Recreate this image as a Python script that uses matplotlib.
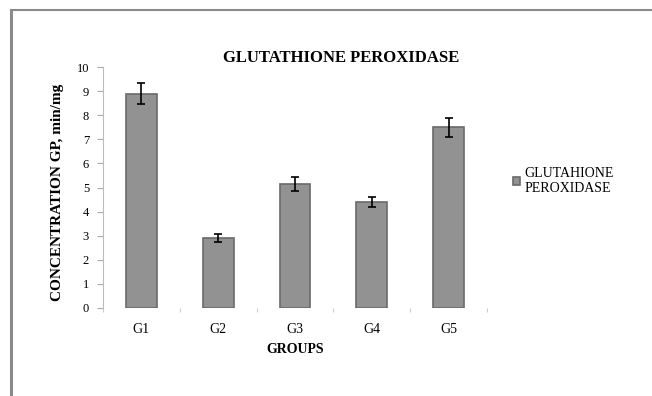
import matplotlib.pyplot as plt
import numpy as np

# data
groups = ['G1', 'G2', 'G3', 'G4', 'G5']
gpx_values = [8.9, 2.9, 5.15, 4.4, 7.5]
gpx_errors = [0.45, 0.15, 0.28, 0.2, 0.4]
y_ticks = list(range(0, 11))

plt.rcParams['font.family'] = ['Liberation Serif', 'DejaVu Serif']

fig = plt.figure(figsize=(6.52, 3.96), dpi=100)

# outer chart border (top and left only visible)
fig.add_artist(plt.Line2D([11/652, 11/652], [0, 1 - 10/396], transform=fig.transFigure,
                          color='#8a8a8a', lw=2.2))
fig.add_artist(plt.Line2D([11/652, 1], [1 - 10/396, 1 - 10/396], transform=fig.transFigure,
                          color='#8a8a8a', lw=1.5))

ax = fig.add_axes([103/652, 1 - 308/396, 384/652, 241/396])
x = np.arange(len(groups))
ax.bar(x, gpx_values, width=0.4, color='#929292', edgecolor='#6a6a6a', linewidth=1.2,
       yerr=gpx_errors, capsize=3, error_kw=dict(ecolor='black', elinewidth=1.2, capthick=1.2),
       label='GLUTAHIONE\nPEROXIDASE')

ax.set_xlim(-0.5, len(groups) - 0.5)
ax.set_ylim(0, 10)
ax.set_yticks(y_ticks)
ax.set_xticks(x)
ax.set_xticklabels(groups)
ax.set_xticks(np.arange(-0.5, len(groups)), minor=True)
ax.tick_params(axis='x', which='major', length=0, labelsize=10, pad=11)
ax.tick_params(axis='x', which='minor', length=3, color='#cccccc', width=0.8)
ax.tick_params(axis='y', length=4, color='#aaaaaa', labelsize=9, pad=6, direction='out')

for s in ['top', 'right', 'bottom']:
    ax.spines[s].set_visible(False)
ax.spines['left'].set_color('#bbbbbb')
ax.spines['left'].set_linewidth(0.8)

ax.set_xlabel('GROUPS', fontsize=10, fontweight='bold', labelpad=5)
ax.set_ylabel('CONCENTRATION GP, min/mg', fontsize=11, fontweight='bold')
ax.yaxis.set_label_coords((64 - 103) / 384, (308 - 192) / 241)
fig.text(341/652, 1 - 58/396, 'GLUTATHIONE PEROXIDASE', fontsize=12, fontweight='bold',
         ha='center', va='center')

ax.legend(loc='center left', bbox_to_anchor=(1.036, 0.527), frameon=False, fontsize=10,
          handlelength=0.5, handleheight=0.5, handletextpad=0.3, labelspacing=0.1)

fig.savefig('out.png', dpi=100)
